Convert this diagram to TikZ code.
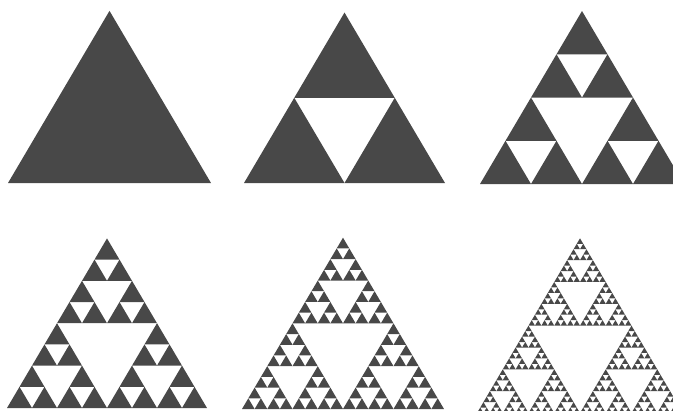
\documentclass[tikz,border=0pt]{standalone}
\usepackage{tikz}
\definecolor{gasket}{RGB}{72,72,72}
\tikzstyle{tri} = [fill=gasket]

% #1 level, #2/#3 lower left corner, #4 base width
\newcommand{\sierp}[4]{%
  \ifnum#1=0
    \fill[tri] (#2,#3) -- ++(#4,0) -- ++(-#4/2,-#4*0.848) -- cycle;
  \else
    \begingroup
    \pgfmathtruncatemacro{\lv}{#1-1}%
    \pgfmathsetmacro{\hw}{#4/2}%
    \pgfmathsetmacro{\xr}{#2+\hw}%
    \pgfmathsetmacro{\xm}{#2+\hw/2}%
    \pgfmathsetmacro{\ym}{#3-\hw*0.848}%
    \edef\next{\noexpand\sierp{\lv}{#2}{#3}{\hw}%
      \noexpand\sierp{\lv}{\xr}{#3}{\hw}%
      \noexpand\sierp{\lv}{\xm}{\ym}{\hw}}%
    \next
    \endgroup
  \fi}

\begin{document}
\begin{tikzpicture}[x=0.03cm, y=-0.03cm]
% canvas: 673 x 410 px, y pointing down
\useasboundingbox (0,0) rectangle (673,410);
% level/left x/base y/width
\foreach \n/\x/\y/\w in {0/8/183/203, 1/244/183/201, 2/480/184/204,
                         3/7/408/200, 4/242/409/202, 5/477/413/206}{
  \sierp{\n}{\x}{\y}{\w}
}
\end{tikzpicture}
\end{document}
